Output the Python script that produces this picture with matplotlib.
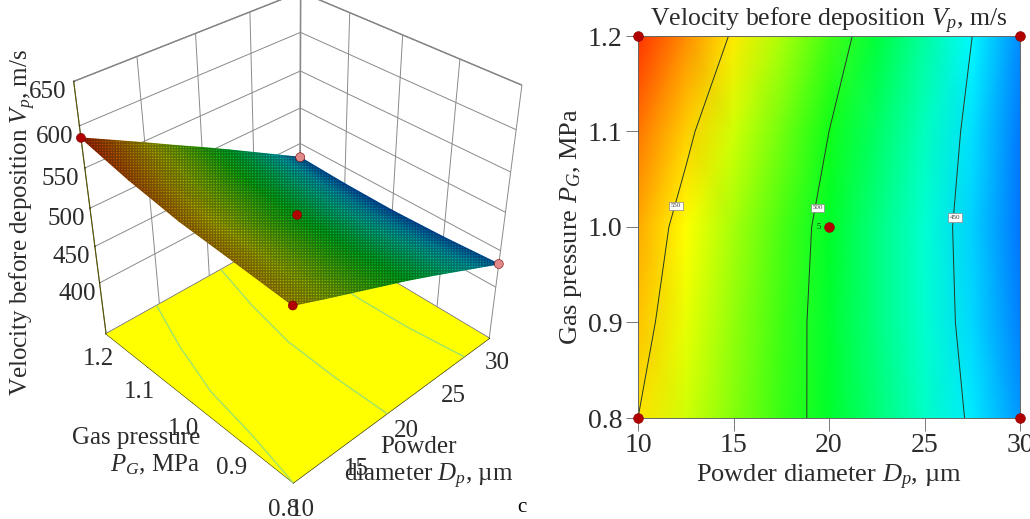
import numpy as np
import matplotlib
matplotlib.use("Agg")
import matplotlib.pyplot as plt
from matplotlib.colors import LinearSegmentedColormap, Normalize
from matplotlib.patches import Polygon
from mpl_toolkits.mplot3d import proj3d

plt.rcParams['font.family'] = ['Liberation Serif', 'DejaVu Serif']
plt.rcParams['mathtext.fontset'] = 'custom'
plt.rcParams['mathtext.rm'] = 'Liberation Serif'
plt.rcParams['mathtext.it'] = 'Liberation Serif:italic'
plt.rcParams['mathtext.default'] = 'regular'

# Values
diametro = [10, 12.5, 15, 17.5, 20, 22.5, 25, 27.5, 30]
presion = [0.8, 0.9, 1.0, 1.1, 1.2]
vel_08 = [550, 535.5, 521.5, 507.5, 493.5, 478.5, 463, 447.5, 432]
vel_09 = [555.7, 540, 524, 508.5, 492.7, 477, 461, 444, 428]
vel_10 = [561, 544, 527, 510.5, 494, 477, 460, 443, 426]
vel_11 = [571.5, 553.5, 535.5, 518, 500, 482, 464, 445.5, 427]
vel_12 = [586, 567, 548, 528.5, 509.5, 490, 470, 450, 430]

niveles = [450, 500, 550]
etiq_d = [26.6, 19.4, 12.0]
etiq_p = [1.01, 1.02, 1.022]

puntos_d = [10, 30, 10, 30, 20]
puntos_p = [0.8, 0.8, 1.2, 1.2, 1.0]
puntos_v = [550, 432, 586, 430, 494]

ticks_d = [10, 15, 20, 25, 30]
ticks_p = [0.8, 0.9, 1.0, 1.1, 1.2]
ticks_v = [400, 450, 500, 550, 600, 650]

Z = np.array([vel_08, vel_09, vel_10, vel_11, vel_12])
X, Y = np.meshgrid(diametro, presion)

tinta = '#2b2b2b'
piso = 326
norma = Normalize(420, 590)
colores = [(norma(420), (0, 0.33, 1)), (norma(451), (0, 1, 1)), (norma(497), (0, 1, 0.1)),
           (norma(544), (1, 1, 0)), (norma(590), (1, 0.12, 0))]
mapa = LinearSegmentedColormap.from_list('de', colores)
colores_osc = [(p, tuple(c * 0.72 for c in col)) for p, col in colores]
mapa_osc = LinearSegmentedColormap.from_list('de_osc', colores_osc)

fig = plt.figure(figsize=(10.30, 5.19), dpi=100)

# Superficie 3D
ax = fig.add_axes([-0.035, -0.065, 0.63, 1.25], projection='3d', computed_zorder=False)
ax.set_proj_type('persp', focal_length=0.32)
ax.view_init(elev=35, azim=-134)
ax.set_box_aspect((1, 1, 1.05), zoom=0.77)
ax.set_xlim(10, 30)
ax.set_ylim(0.8, 1.2)
ax.set_zlim(piso, 650)
ax.patch.set_alpha(0)
for eje in (ax.xaxis, ax.yaxis, ax.zaxis):
    eje.set_pane_color((1, 1, 1, 1))
    eje._axinfo['grid']['color'] = '#8a8a8a'
    eje._axinfo['grid']['linewidth'] = 0.7
    eje._axinfo['tick']['inward_factor'] = 0.0
    eje._axinfo['tick']['outward_factor'] = 0.02
    eje.pane.set_edgecolor('#777777')
    eje.line.set_color('#555500')
    eje.line.set_linewidth(0.8)
ax.set_xticks(ticks_d)
ax.set_yticks(ticks_p)
ax.set_zticks(ticks_v)
ax.set_yticklabels([f'{p:.1f}' for p in ticks_p])
ax.tick_params(axis='both', labelsize=18, colors=tinta)
ax.tick_params(axis='x', pad=2)
ax.tick_params(axis='y', pad=2)
ax.tick_params(axis='z', pad=6)
ax.zaxis.set_ticks_position('upper')

# Piso amarillo con las curvas proyectadas
ax.plot_surface(X[[0, -1]][:, [0, -1]], Y[[0, -1]][:, [0, -1]], np.full((2, 2), piso), color=(1, 1, 0),
                shade=False, linewidth=0, zorder=1)
ax.contour(X, Y, Z, levels=niveles, zdir='z', offset=piso, colors='#9fe36a', linewidths=1, zorder=2)

# Capa en pixeles para la superficie sombreada
fig.canvas.draw()
capa = fig.add_axes([0, 0, 1, 1], facecolor='none')
capa.set_xlim(0, 1030)
capa.set_ylim(519, 0)
capa.axis('off')


def a_pixel(xs, ys, zs):
    px, py, _ = proj3d.proj_transform(np.ravel(xs), np.ravel(ys), np.ravel(zs), ax.get_proj())
    pts = ax.transData.transform(np.column_stack([px, py]))
    return pts[:, 0], 519 - pts[:, 1]


sx, sy = a_pixel(X, Y, Z)
sx = sx.reshape(Z.shape)
sy = sy.reshape(Z.shape)
capa.pcolormesh(sx, sy, Z, shading='gouraud', cmap=mapa_osc, norm=norma)
borde_x = np.r_[sx[0, :], sx[:, -1], sx[-1, ::-1], sx[::-1, 0]]
borde_y = np.r_[sy[0, :], sy[:, -1], sy[-1, ::-1], sy[::-1, 0]]
capa.add_patch(Polygon(np.column_stack([borde_x, borde_y]), closed=True, facecolor='none',
                       edgecolor=(0, 0, 0, 0.35), hatch='++++++', linewidth=0.3))

mx, my = a_pixel(puntos_d, puntos_p, puntos_v)
colores_p = ['#b00000', '#e08a8a', '#b00000', '#e08a8a', '#b00000']
capa.scatter(mx, my, s=42, c=colores_p, edgecolors='#7a0000', linewidths=0.4, zorder=5)

# Textos del panel 3D
capa.text(23, 222, 'Velocity before deposition $\\mathit{V_p}$, m/s', rotation=90, ha='center', va='center',
          fontsize=18, color=tinta)
capa.text(200, 438, 'Gas pressure', ha='right', va='center', fontsize=18, color=tinta)
capa.text(200, 465, '$\\mathit{P_G}$, MPa', ha='right', va='center', fontsize=18, color=tinta)
capa.text(457, 447, 'Powder', ha='right', va='center', fontsize=18, color=tinta)
capa.text(513, 476, 'diameter $\\mathit{D_p}$, µm', ha='right', va='center', fontsize=18, color=tinta)
capa.text(522, 508, 'c', ha='center', va='center', fontsize=15, color='black')

# Mapa de contornos
ax2 = fig.add_axes([638 / 1030, 1 - 418 / 519, 382 / 1030, 382 / 519])
ax2.pcolormesh(X, Y, Z, shading='gouraud', cmap=mapa, norm=norma)
ax2.contour(X, Y, Z, levels=niveles, colors='#263a26', linewidths=0.7)
for nivel, d, p in zip(niveles, etiq_d, etiq_p):
    ax2.text(d, p, str(nivel), ha='center', va='center', fontsize=5, color='#444444',
             bbox=dict(boxstyle='square,pad=0.25', facecolor='white', edgecolor='#888888', linewidth=0.5))
ax2.text(19.45, 1.0, '5', ha='center', va='center', fontsize=6, color='#222222')
ax2.scatter(puntos_d, puntos_p, s=50, c='#b00000', edgecolors='#8a0000', linewidths=0.4, clip_on=False, zorder=5)
ax2.set_xlim(10, 30)
ax2.set_ylim(0.8, 1.2)
ax2.set_xticks(ticks_d)
ax2.set_yticks(ticks_p)
ax2.set_yticklabels([f'{p:.1f}' for p in ticks_p])
ax2.tick_params(axis='both', length=9, width=0.7, color='#777777', labelsize=20, labelcolor=tinta, pad=2)
for lado in ax2.spines.values():
    lado.set_color('#666666')
    lado.set_linewidth(0.7)
ax2.set_xlabel('Powder diameter $\\mathit{D_p}$, µm', fontsize=19, color=tinta, labelpad=3)
ax2.set_ylabel('Gas pressure $\\mathit{P_G}$, MPa', fontsize=19, color=tinta, labelpad=3)
ax2.set_title('Velocity before deposition $\\mathit{V_p}$, m/s', fontsize=18.5, color=tinta, pad=3)

fig.savefig('out.png', dpi=100)
